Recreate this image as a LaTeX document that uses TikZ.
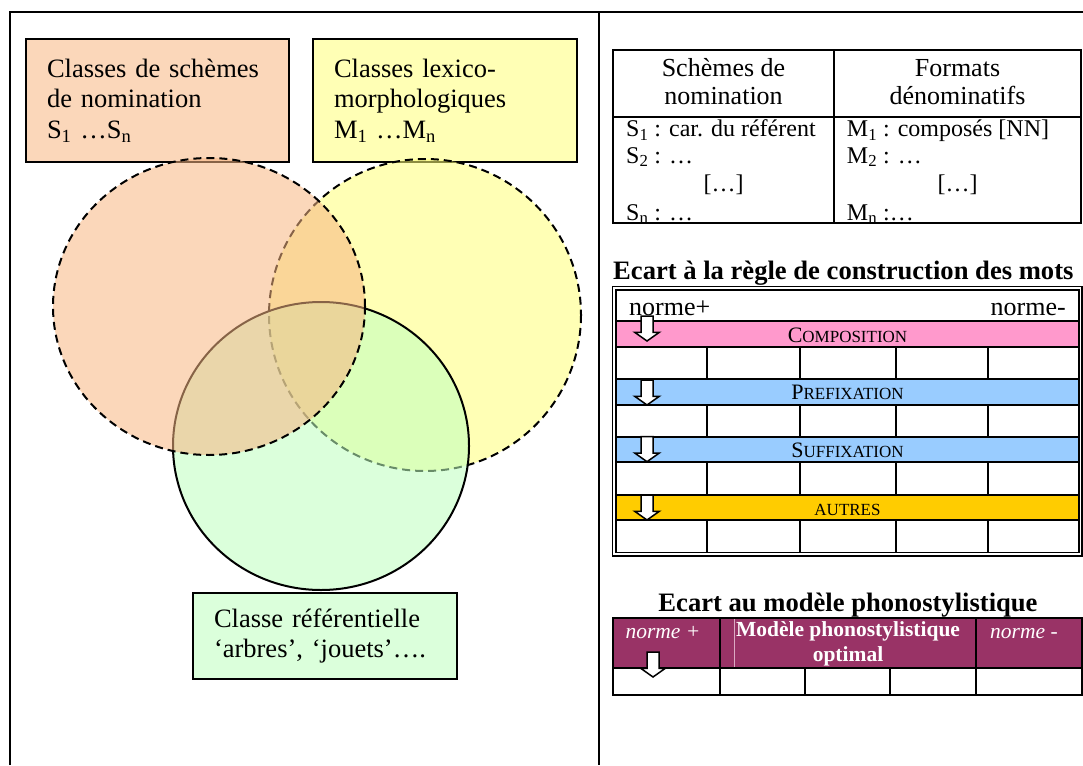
\documentclass[tikz,border=0pt]{standalone}
\usepackage{fontspec}
\setmainfont{Liberation Serif}
\usetikzlibrary{arrows.meta, positioning}

\definecolor{peachfill}{RGB}{251,215,186}
\definecolor{peachvenn}{RGB}{247,182,130}
\definecolor{lemonfill}{RGB}{255,255,181}
\definecolor{lemonvenn}{RGB}{255,255,120}
\definecolor{mintfill}{RGB}{219,255,219}
\definecolor{mintvenn}{RGB}{190,255,190}
\definecolor{compink}{RGB}{255,153,204}
\definecolor{affblue}{RGB}{153,204,255}
\definecolor{othergold}{RGB}{255,204,0}
\definecolor{phonoplum}{RGB}{153,51,102}
\definecolor{plumline}{RGB}{220,170,195}

\newcommand{\boxfont}{\fontsize{26.5}{30.5}\selectfont}
\newcommand{\headfont}{\fontsize{26}{28.5}\selectfont}
\newcommand{\cellfont}{\fontsize{24}{27}\selectfont}
\newcommand{\bandfont}{\fontsize{22}{22}\selectfont}
\newcommand{\smallcapsfont}{\fontsize{17}{17}\selectfont}
\newcommand{\fakesc}[2]{{\bandfont #1{\smallcapsfont #2}}}

\tikzset{
  classbox/.style={draw, line width=2pt, anchor=north west, align=left,
    inner xsep=21pt, minimum height=123pt, font=\boxfont},
  venndash/.style={draw, line width=2pt, dash pattern=on 8pt off 5pt, fill opacity=0.55},
  grid/.style={line width=2pt},
  headtxt/.style={anchor=base, align=center, font=\headfont, inner sep=0pt},
  celltxt/.style={anchor=base west, font=\cellfont, inner sep=0pt},
  titletxt/.style={font=\fontsize{26.6}{30}\selectfont\bfseries, inner sep=0pt},
  bandtxt/.style={anchor=base, inner sep=0pt},
  phonotxt/.style={anchor=base, align=center, inner sep=0pt, text=white},
  hollowarrow/.pic={
    \draw[fill=white, line width=1.5pt, line join=miter]
      (-6,-25) -- (-6,-8.7) -- (-12.3,-8.7) -- (0,0) -- (12.3,-8.7)
      -- (6,-8.7) -- (6,-25) -- cycle;
  }
}

\begin{document}
\begin{tikzpicture}[x=1pt, y=-1pt]
  \useasboundingbox (0,0) rectangle (1083,765);

  % frame
  \draw[line width=2.7pt] (10,765) -- (10,12) -- (1083,12);
  \draw[line width=2.7pt] (599,12) -- (599,765);

  % class boxes
  \node[classbox, fill=peachfill, text width=221pt] (schemes) at (25,38)
    {Classes de schèmes\\de nomination\\S\textsubscript{1} …S\textsubscript{n}};
  \node[classbox, fill=lemonfill, text width=222pt, right=22pt of schemes.north east, anchor=north west] (lexico)
    {Classes lexico-\\morphologiques\\M\textsubscript{1} …M\textsubscript{n}};

  % venn circles
  \draw[venndash, fill=lemonvenn] (425,315) circle (156);
  \draw[line width=2pt, fill=mintvenn, fill opacity=0.55] (321,446) ellipse (148 and 144);
  \draw[venndash, fill=peachvenn] (209,306.5) ellipse (156 and 148.5);

  \node[classbox, fill=mintfill, text width=222pt, minimum height=86pt] (referent) at (192,592)
    {Classe référentielle\\‘arbres’, ‘jouets’….};

  % table of schemes and formats
  \draw[grid] (613,50) rectangle (1081,223);
  \draw[grid] (834,50) -- (834,223) (613,117) -- (1081,117);
  \node[headtxt] (schemeshead) at (723.5,105) {Schèmes de\\nomination};
  \node[headtxt] (formatshead) at (957.5,105) {Formats\\dénominatifs};
  \node[celltxt] (sone) at (626,136.7) {S\textsubscript{1} : car. du référent};
  \node[celltxt] (stwo) at (626,163) {S\textsubscript{2} : …};
  \node[celltxt, anchor=base] (sdots) at (723.5,191.7) {[…]};
  \node[celltxt] (sn) at (626,220) {S\textsubscript{n} : …};
  \node[celltxt] (mone) at (846.7,136.7) {M\textsubscript{1} : composés [NN]};
  \node[celltxt] (mtwo) at (846.7,163) {M\textsubscript{2} : …};
  \node[celltxt, anchor=base] (mdots) at (957.5,191.7) {[…]};
  \node[celltxt] (mn) at (846.7,220) {M\textsubscript{n} :…};

  % table of word-formation rules
  \node[titletxt, anchor=base west] (ruletitle) at (613,279.3)
    {Ecart à la règle de construction des mots};
  \foreach \yt/\yb/\c in {321/347/compink, 379/405/affblue, 437/462/affblue, 495/520/othergold}
    \fill[\c] (616,\yt) rectangle (1079,\yb);
  \draw[line width=1.2pt] (612.7,286.7) rectangle (1082,556);
  \draw[line width=1.2pt] (616,290) rectangle (1079,552.7);
  \foreach \y in {321,347,379,405,437,462,495,520}
    \draw[grid] (616,\y) -- (1079,\y);
  \foreach \yt/\yb in {347/379, 405/437, 462/495, 520/552.7}
    \foreach \x in {706.7,800,895.7,987.7}
      \draw[grid] (\x,\yt) -- (\x,\yb);
  \node[anchor=base west, font=\headfont, inner sep=0pt] (normplus) at (629,315) {norme+};
  \node[anchor=base east, font=\headfont, inner sep=0pt] (normminus) at (1066,315) {norme-};
  \node[bandtxt] (comp) at (847.5,342.7) {\fakesc{C}{OMPOSITION}};
  \node[bandtxt] (pref) at (847.5,399.3) {\fakesc{P}{REFIXATION}};
  \node[bandtxt] (suff) at (847.5,457.3) {\fakesc{S}{UFFIXATION}};
  \node[bandtxt] (autres) at (847.5,515) {\smallcapsfont AUTRES};
  \foreach \ytip in {341,405,461.7,520}
    \pic at (647,\ytip) {hollowarrow};

  % table of the phonostylistic model
  \node[titletxt, anchor=base] (phonotitle) at (848,611.7)
    {Ecart au modèle phonostylistique};
  \fill[phonoplum] (612.7,617.7) rectangle (1082,668);
  \draw[plumline, line width=1pt] (734,619) -- (734,667);
  \draw[grid] (612.7,617.7) rectangle (1082,695);
  \draw[grid] (612.7,668) -- (1082,668);
  \foreach \x in {720,976}
    \draw[grid] (\x,617.7) -- (\x,668);
  \foreach \x in {720,805,890,976}
    \draw[grid] (\x,668) -- (\x,695);
  \node[phonotxt, font=\fontsize{21.5}{24}\selectfont\itshape] (phplus) at (663,638.3) {norme +};
  \node[phonotxt, font=\fontsize{21.5}{25}\selectfont\bfseries] (phmodel) at (848,661.7)
    {Modèle phonostylistique\\optimal};
  \node[phonotxt, anchor=base west, font=\fontsize{21.5}{24}\selectfont\itshape] (phminus) at (990,638.3) {norme -};
  \pic at (653,677) {hollowarrow};
\end{tikzpicture}
\end{document}
